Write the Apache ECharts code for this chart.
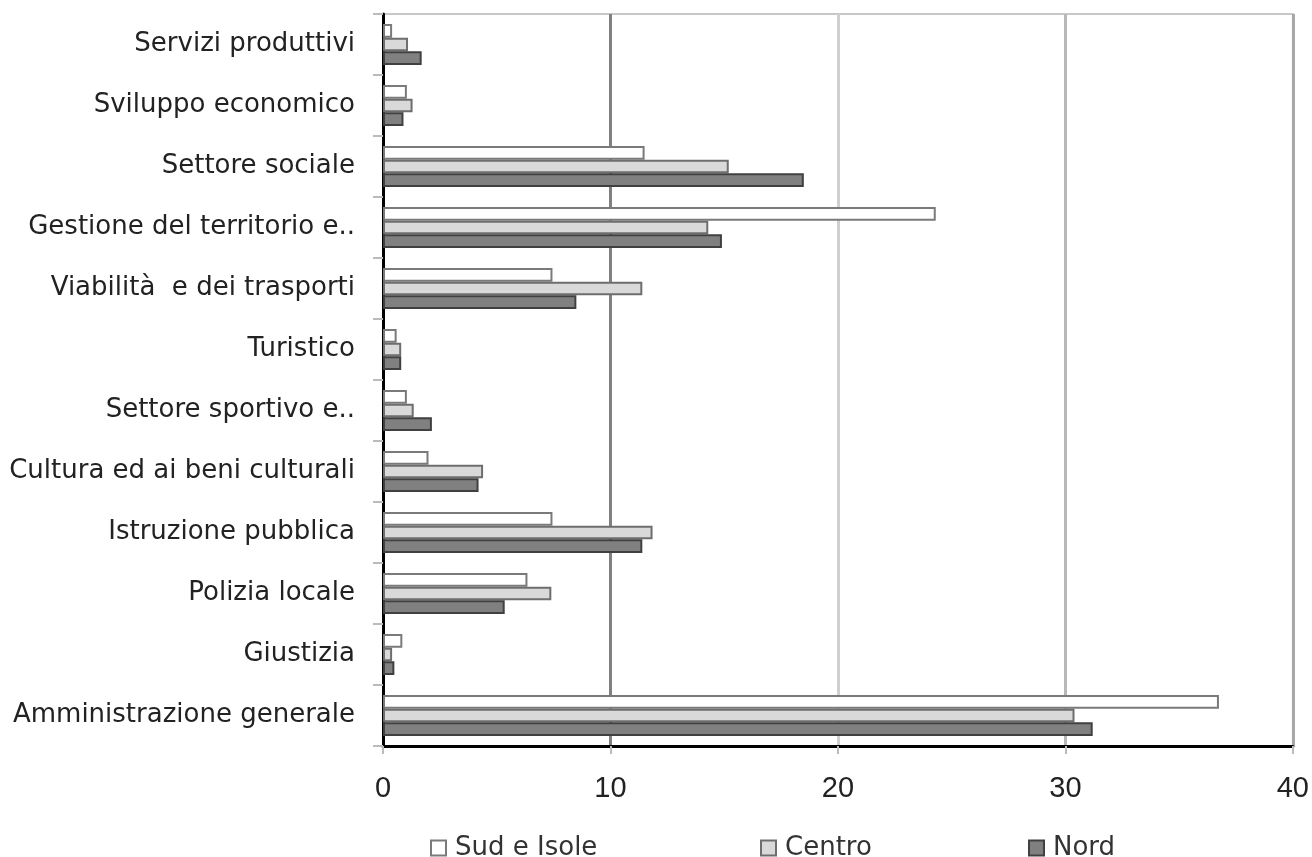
<!DOCTYPE html>
<html><head><meta charset="utf-8">
<script src="https://cdn.jsdelivr.net/npm/echarts@6/dist/echarts.min.js"></script>
<style>html,body{margin:0;padding:0;background:#fff}#c{width:1312px;height:857px}</style>
</head><body><div id="c"></div>
<script>
const categories = ["Servizi produttivi","Sviluppo economico","Settore sociale","Gestione del territorio e..","Viabilità  e dei trasporti","Turistico","Settore sportivo e..","Cultura ed ai beni culturali","Istruzione pubblica","Polizia locale","Giustizia","Amministrazione generale"];
const sud =    [0.4, 1.05, 11.5, 24.3, 7.45, 0.6, 1.05, 2.0, 7.45, 6.35, 0.85, 36.75];
const centro = [1.1, 1.3, 15.2, 14.3, 11.4, 0.8, 1.35, 4.4, 11.85, 7.4, 0.4, 30.4];
const nord =   [1.7, 0.9, 18.5, 14.9, 8.5, 0.8, 2.15, 4.2, 11.4, 5.35, 0.5, 31.2];
const xTicks = [0, 10, 20, 30, 40];

const chart = echarts.init(document.getElementById('c'));
const labelFont = 'DejaVu Sans, sans-serif';
const numFont = 'Liberation Sans, Arial, sans-serif';
const legendBase = {top: 830, itemWidth: 15, itemHeight: 15, itemGap: 8, icon: 'rect',
  textStyle:{fontFamily: labelFont, fontSize: 26, color:'#333', padding: [0,0,0,4]}};
chart.setOption({
  animation: false,
  grid: {left: 383, right: 17, top: 14, bottom: 111, show: true, borderColor: '#c8c8c8', borderWidth: 2},
  legend: [
    Object.assign({}, legendBase, {left: 425, data: ['Sud e Isole']}),
    Object.assign({}, legendBase, {left: 755, data: ['Centro']}),
    Object.assign({}, legendBase, {left: 1023, data: ['Nord']})
  ],
  xAxis: {type: 'value', min: xTicks[0], max: xTicks[xTicks.length-1], interval: 10,
    axisLine: {show: true, lineStyle: {color: '#000', width: 3}},
    axisTick: {show: true, length: 8, lineStyle: {color: '#bbb', width: 2}},
    axisLabel: {margin: 28, fontFamily: numFont, fontSize: 29, color: '#222'},
    splitLine: {show: true, lineStyle: {color: ['#808080','#808080','#cfcfcf','#b8b8b8','#a8a8a8'], width: 3}}
  },
  yAxis: {type: 'category', data: categories, inverse: true,
    axisLine: {show: true, lineStyle: {color: '#000', width: 3}},
    axisTick: {show: true, length: 10, lineStyle: {color: '#bbb', width: 2}},
    axisLabel: {margin: 28, fontFamily: labelFont, fontSize: 26, color: '#222'}
  },
  series: [
    {name: 'Sud e Isole', type: 'bar', data: sud, barGap: '0%', barCategoryGap: '33%',
      itemStyle: {color: '#ffffff', borderColor: '#7a7a7a', borderWidth: 2}},
    {name: 'Centro', type: 'bar', data: centro,
      itemStyle: {color: '#d9d9d9', borderColor: '#6e6e6e', borderWidth: 2}},
    {name: 'Nord', type: 'bar', data: nord,
      itemStyle: {color: '#808080', borderColor: '#404040', borderWidth: 2}}
  ]
});
</script></body></html>
